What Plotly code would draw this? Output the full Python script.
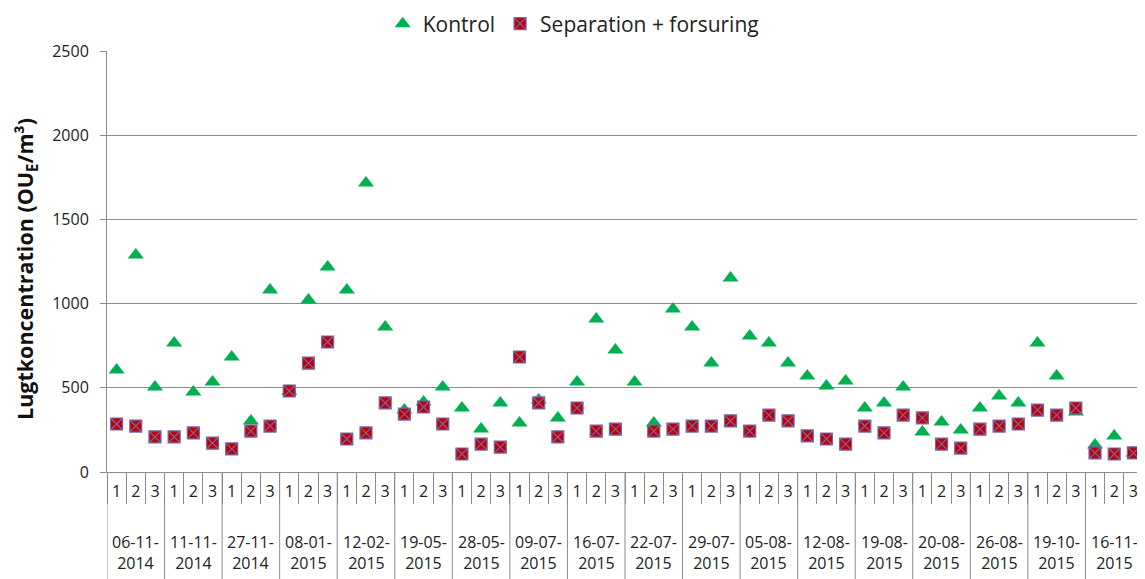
import plotly.graph_objects as go

dates = ["06-11-<br>2014", "11-11-<br>2014", "27-11-<br>2014", "08-01-<br>2015", "12-02-<br>2015",
         "19-05-<br>2015", "28-05-<br>2015", "09-07-<br>2015", "16-07-<br>2015", "22-07-<br>2015",
         "29-07-<br>2015", "05-08-<br>2015", "12-08-<br>2015", "19-08-<br>2015", "20-08-<br>2015",
         "26-08-<br>2015", "19-10-<br>2015", "16-11-<br>2015"]
reps = ["1", "2", "3"]

kontrol = [606, 1289, 505, 766, 475, 534, 683, 303, 1081,
           480, 1021, 1217, 1081, 1716, 861, 368, 416, 505,
           380, 255, 410, 291, 428, 321, 534, 909, 724,
           534, 291, 968, 861, 647, 1152, 808, 766, 647,
           570, 511, 540, 380, 410, 505, 238, 297, 249,
           380, 451, 410, 766, 570, 356, 160, 214, 113]
separation = [285, 273, 208, 208, 232, 172, 137, 243, 273,
              481, 647, 772, 196, 232, 410, 344, 386, 285,
              107, 166, 148, 683, 410, 208, 380, 243, 255,
              None, 243, 255, 273, 273, 303, 243, 338, 303,
              214, 196, 166, 273, 232, 338, 321, 166, 142,
              255, 273, 285, 368, 338, 380, 113, 107, 113]

y_title = "<b>Lugtkoncentration (OU<sub>E</sub>/m³)</b>"

# unique category keys (date + replicate), labelled with the replicate number
keys = [f"{d.replace('<br>', '')} {r}" for d in dates for r in reps]
rep_labels = [r for _ in dates for r in reps]

FONT = "Open Sans"
GRID = "#8c8c8c"
TXT = "#222222"

# page body has an 8px default margin -> figure is drawn at (8, 8)
W, H = 1137, 571
ML, MR, MT, MB = 99, 2, 43, 107
plot_h = H - MT - MB
plot_w = W - ML - MR

fig = go.Figure()
fig.add_trace(go.Scatter(
    x=keys, y=kontrol, mode="markers", name="Kontrol",
    marker=dict(symbol="triangle-up", size=14, color="#00B050"),
))
fig.add_trace(go.Scatter(
    x=keys, y=separation, mode="markers", name="Separation + forsuring",
    marker=dict(symbol="square-x", size=12, color="#C00000",
                line=dict(color="#7566A8", width=1.2)),
))

# group date labels and group dividers
bottom = -(MB + 10) / plot_h
for g, d in enumerate(dates):
    mid = keys[g * len(reps) + len(reps) // 2]
    fig.add_annotation(x=mid, xref="x", y=-80 / plot_h, yref="paper",
                       text=d, showarrow=False, yanchor="middle",
                       font=dict(size=16, family=FONT, color=TXT))
for g in range(len(dates) + 1):
    xb = g * len(reps) - 0.5
    fig.add_shape(type="line", xref="x", yref="paper", x0=xb, x1=xb, y0=0, y1=bottom,
                  line=dict(color=GRID, width=1))

# y-axis title
fig.add_annotation(x=-(ML - 18) / plot_w, xref="paper", y=(472 - 269) / plot_h, yref="paper",
                   text=y_title, textangle=-90, showarrow=False,
                   xanchor="center", yanchor="middle",
                   font=dict(size=21.5, family=FONT, color="#111111"))

fig.update_layout(
    width=W, height=H,
    margin=dict(l=ML, r=MR, t=MT, b=MB),
    paper_bgcolor="white", plot_bgcolor="white",
    font=dict(family=FONT, color=TXT, size=16),
    showlegend=True,
    legend=dict(orientation="h", x=0.45, xanchor="center",
                yref="container", y=1 - 16 / H, yanchor="middle",
                font=dict(size=21, family=FONT, color=TXT), itemwidth=30,
                bgcolor="rgba(0,0,0,0)"),
    xaxis=dict(
        type="category", categoryorder="array", categoryarray=keys,
        range=[-0.5, len(keys) - 0.5],
        tickmode="array", tickvals=keys, ticktext=rep_labels,
        showgrid=False, automargin=False,
        showline=True, linecolor=GRID, linewidth=1,
        ticks="outside", tickson="boundaries", ticklen=31, tickcolor=GRID, tickwidth=1,
        ticklabelstandoff=5,
        tickangle=0,
        tickfont=dict(size=16, family=FONT, color=TXT),
    ),
    yaxis=dict(
        range=[0, 2500], tick0=0, dtick=500,
        showgrid=True, gridcolor=GRID, gridwidth=1,
        showline=True, linecolor=GRID, linewidth=1,
        ticks="outside", ticklen=6, tickcolor=GRID,
        ticklabelstandoff=8,
        zeroline=False, automargin=False,
        tickfont=dict(size=16, family=FONT, color=TXT),
    ),
)

fig.write_html("out.html")
